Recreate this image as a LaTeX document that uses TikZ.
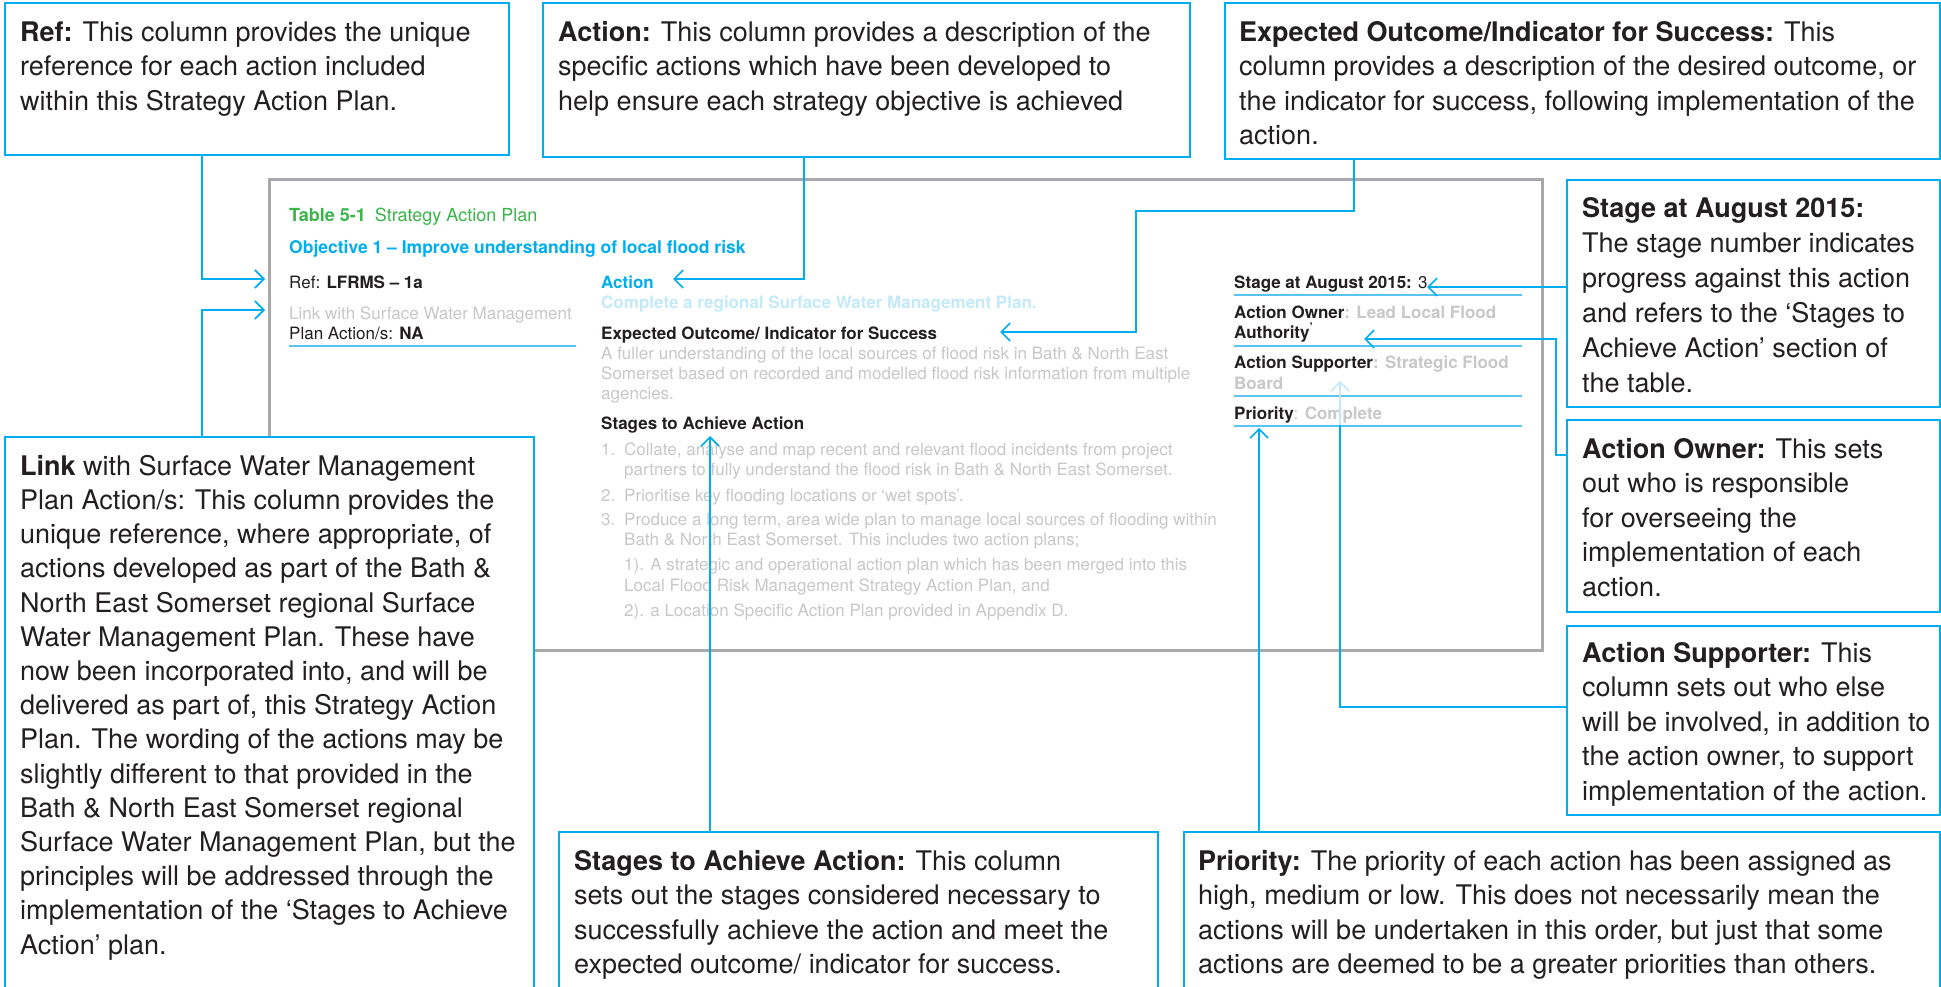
\documentclass[tikz,border=0pt]{standalone}
\usepackage{fontspec}
\setmainfont{TeX Gyre Heros}
\usetikzlibrary{arrows.meta,calc}
\definecolor{cblue}{RGB}{0,174,239}
\definecolor{ublue}{RGB}{90,196,240}
\definecolor{lblue}{RGB}{196,234,250}
\definecolor{ggray}{RGB}{167,169,172}
\definecolor{ltext}{RGB}{200,200,200}
\definecolor{dtext}{RGB}{35,31,32}
\definecolor{tgreen}{RGB}{57,181,74}
\newcommand\tpa{\rule{0pt}{22pt}}
\begin{document}
\begin{tikzpicture}[x=1pt,y=-1pt,
  callout/.style={draw=cblue,line width=1.7pt,fill=white,anchor=north west,inner sep=0pt},
  ctext/.style={anchor=north west,inner sep=0pt,align=left,text=dtext,font=\fontsize{27}{34.5}\selectfont},
  gtext/.style={anchor=base west,inner sep=0pt,text=dtext,font=\fontsize{17}{20}\selectfont},
  ftext/.style={gtext,text=ltext},
  conn/.style={draw=cblue,line width=1.6pt},
  arr/.style={-{Straight Barb[length=9pt,width=18pt,line width=1.6pt]}},
  uline/.style={draw=ublue,line width=2.2pt}
]
\clip (0,0) rectangle (1941,987);
\fill[white] (0,0) rectangle (1941,987);

% central panel
\node[draw=ggray,line width=3pt,anchor=north west,inner sep=0pt,minimum width=1273pt,minimum height=471pt] (panel) at (268,178) {};

% panel texts
\node[gtext,text=tgreen,font=\fontsize{18}{20}\selectfont] (ttitle) at (289,222) {\textbf{Table 5-1}\hspace{9pt}Strategy Action Plan};
\node[gtext,text=cblue,font=\fontsize{17.5}{20}\bfseries] (tobj) at (289,253) {Objective 1 – Improve understanding of local flood risk};
\node[gtext] (tref) at (289,288) {Ref: \textbf{LFRMS – 1a}};
\node[ftext] (tlink) at (289,319) {Link with Surface Water Management};
\node[gtext] (tplan) at (289,339) {Plan Action/s: \textbf{NA}};
\draw[uline] (289,346) -- (576,346);

\node[gtext,text=cblue,font=\fontsize{17}{20}\bfseries] (tact) at (601,288) {Action};
\node[gtext,text=lblue,font=\fontsize{17}{20}\bfseries] (tcomp) at (601,308) {Complete a regional Surface Water Management Plan.};
\node[gtext,font=\fontsize{17}{20}\bfseries] (texp) at (601,339) {Expected Outcome/ Indicator for Success};
\node[ftext] (tf1) at (601,359) {A fuller understanding of the local sources of flood risk in Bath \& North East};
\node[ftext] (tf2) at (601,379) {Somerset based on recorded and modelled flood risk information from multiple};
\node[ftext] (tf3) at (601,399) {agencies.};
\node[gtext,font=\fontsize{17}{20}\bfseries] (tstg) at (601,429) {Stages to Achieve Action};
\node[ftext] (n1) at (601,455) {1.};
\node[ftext] (l1a) at (624,455) {Collate, analyse and map recent and relevant flood incidents from project};
\node[ftext] (l1b) at (624,475) {partners to fully understand the flood risk in Bath \& North East Somerset.};
\node[ftext] (n2) at (601,501) {2.};
\node[ftext] (l2a) at (624,501) {Prioritise key flooding locations or ‘wet spots’.};
\node[ftext] (n3) at (601,525) {3.};
\node[ftext] (l3a) at (624,525) {Produce a long term, area wide plan to manage local sources of flooding within};
\node[ftext] (l3b) at (624,545) {Bath \& North East Somerset. This includes two action plans;};
\node[ftext] (l3c) at (624,570) {1). A strategic and operational action plan which has been merged into this};
\node[ftext] (l3d) at (624,591) {Local Flood Risk Management Strategy Action Plan, and};
\node[ftext] (l3e) at (624,616) {2). a Location Specific Action Plan provided in Appendix D.};

\node[gtext] (tsa) at (1234,288) {\textbf{Stage at August 2015:} 3};
\draw[uline] (1234,295) -- (1522,295);
\node[gtext] (tow) at (1234,318) {\textbf{Action Owner}\textcolor{ltext}{\textbf{: Lead Local Flood}}};
\node[gtext] (tow2) at (1234,338) {\textbf{Authority}\textsuperscript{\textbf{’}}};
\draw[uline] (1234,346) -- (1522,346);
\node[gtext] (tsu) at (1234,368) {\textbf{Action Supporter}\textcolor{ltext}{\textbf{: Strategic Flood}}};
\node[gtext,text=ltext] (tsu2) at (1234,389) {\textbf{Board}};
\draw[uline] (1234,396) -- (1522,396);
\node[gtext] (tpr) at (1234,419) {\textbf{Priority}\textcolor{ltext}{: \textbf{Complete}}};
\draw[uline] (1234,426) -- (1522,426);

% arrow tips
\coordinate (tipRef) at (265,279);
\coordinate (tipLink) at (265,310);
\coordinate (tipAct) at (673,279);
\coordinate (tipExp) at (1000,332);
\coordinate (tipSt) at (1427,287);
\coordinate (tipOwn) at (1364,339);
\coordinate (tipSup) at (1340,381);
\coordinate (fadeSup) at (1340,425);
\coordinate (tipPri) at (1259,428);
\coordinate (tipStg) at (710,436);

% callout boxes
\node[callout,minimum width=504pt,minimum height=152pt] (refbox) at (4,2) {};
\node[callout,minimum width=647pt,minimum height=154pt] (actbox) at (542,2) {};
\node[callout,minimum width=715pt,minimum height=156pt] (expbox) at (1224,2) {};
\node[callout,minimum width=373pt,minimum height=227pt] (stbox) at (1566,179) {};
\node[callout,minimum width=373pt,minimum height=192pt] (ownbox) at (1566,419) {};
\node[callout,minimum width=373pt,minimum height=189pt] (supbox) at (1566,625) {};
\node[callout,minimum width=529pt,minimum height=600pt] (linkbox) at (4,436) {};
\node[callout,minimum width=599pt,minimum height=200pt] (stgbox) at (558,831) {};
\node[callout,minimum width=756pt,minimum height=200pt] (pribox) at (1183,831) {};

% connectors
\draw[conn,arr] ($(refbox.south west)+(198,0)$) |- (tipRef);
\draw[conn,arr] ($(linkbox.north west)+(198,0)$) |- (tipLink);
\draw[conn,arr] ($(actbox.south west)+(262,0)$) |- (tipAct);
\draw[conn,arr] ($(expbox.south west)+(130,0)$) |- (1136,211) |- (tipExp);
\draw[conn,arr] (stbox.west |- tipSt) -- (tipSt);
\draw[conn,arr] ($(ownbox.north west)+(0,36)$) -- (1556,455) |- (tipOwn);
\draw[conn] ($(supbox.north west)+(0,82)$) -| (fadeSup);
\draw[draw=lblue,line width=1.6pt,arr] (fadeSup) -- (tipSup);
\draw[conn,arr] (pribox.north west -| tipPri) -- (tipPri);
\draw[conn,arr] (stgbox.north west -| tipStg) -- (tipStg);

% callout texts
\node[ctext] (cref) at (20,19) {\tpa\textbf{Ref:} This column provides the unique\\reference for each action included\\within this Strategy Action Plan.};
\node[ctext] (cact) at (558,19) {\tpa\textbf{Action:} This column provides a description of the\\specific actions which have been developed to\\help ensure each strategy objective is achieved};
\node[ctext] (cexp) at (1239,19) {\tpa\textbf{Expected Outcome/Indicator for Success:} This\\column provides a description of the desired outcome, or\\the indicator for success, following implementation of the\\action.};
\node[ctext,font=\fontsize{27}{35}\selectfont] (cst) at (1582,195) {\tpa\textbf{Stage at August 2015:}\\The stage number indicates\\progress against this action\\and refers to the ‘Stages to\\Achieve Action’ section of\\the table.};
\node[ctext] (cown) at (1582,436) {\tpa\textbf{Action Owner:} This sets\\out who is responsible\\for overseeing the\\implementation of each\\action.};
\node[ctext] (csup) at (1582,640) {\tpa\textbf{Action Supporter:} This\\column sets out who else\\will be involved, in addition to\\the action owner, to support\\implementation of the action.};
\node[ctext,font=\fontsize{27}{34.2}\selectfont] (clink) at (20,453) {\tpa\textbf{Link} with Surface Water Management\\Plan Action/s: This column provides the\\unique reference, where appropriate, of\\actions developed as part of the Bath \&\\North East Somerset regional Surface\\Water Management Plan. These have\\now been incorporated into, and will be\\delivered as part of, this Strategy Action\\Plan. The wording of the actions may be\\slightly different to that provided in the\\Bath \& North East Somerset regional\\Surface Water Management Plan, but the\\principles will be addressed through the\\implementation of the ‘Stages to Achieve\\Action’ plan.};
\node[ctext] (cstg) at (574,848) {\tpa\textbf{Stages to Achieve Action:} This column\\sets out the stages considered necessary to\\successfully achieve the action and meet the\\expected outcome/ indicator for success.};
\node[ctext] (cpri) at (1198,848) {\tpa\textbf{Priority:} The priority of each action has been assigned as\\high, medium or low. This does not necessarily mean the\\actions will be undertaken in this order, but just that some\\actions are deemed to be a greater priorities than others.};
\end{tikzpicture}
\end{document}
